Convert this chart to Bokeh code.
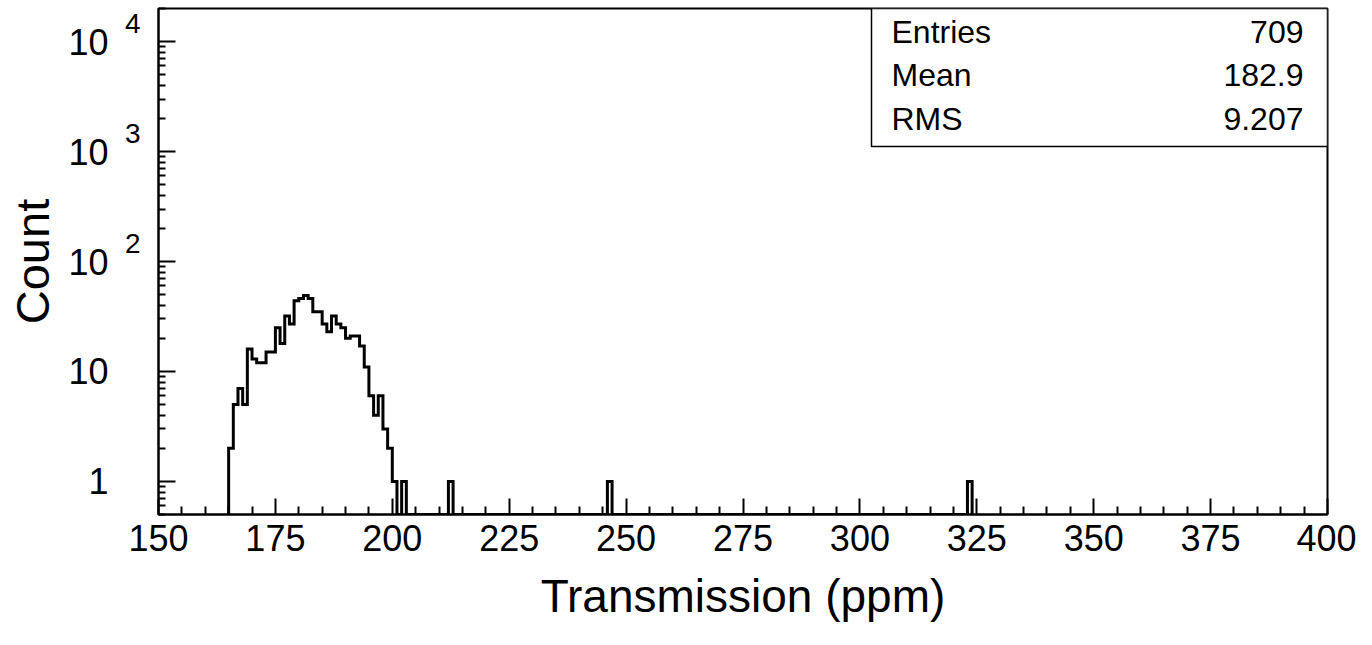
import numpy as np
from bokeh.plotting import figure
from bokeh.models import (Range1d, FixedTicker, Label, BoxAnnotation,
                          CustomJSTickFormatter, LogAxis)
from bokeh.embed import file_html
from bokeh.resources import INLINE

# ---- data (bin width 1 ppm) ----
bin_lo = [165, 166, 167, 168, 169, 170, 171, 172, 173, 174,
          175, 176, 177, 178, 179, 180, 181, 182, 183, 184,
          185, 186, 187, 188, 189, 190, 191, 192, 193, 194,
          195, 196, 197, 198, 199, 200, 201, 202, 212, 246, 323]
counts = [2, 5, 7, 5, 16, 13, 12, 12, 15, 15,
          25, 18, 32, 27, 44, 46, 49, 46, 35, 35,
          27, 23, 32, 27, 25, 20, 21, 21, 17, 11,
          6, 4, 6, 3, 2, 1, 0, 1, 1, 1, 1]
bin_width = 1

stat_names = ["Entries", "Mean", "RMS"]
stat_values = ["709", "182.9", "9.207"]

x_ticks = [150, 175, 200, 225, 250, 275, 300, 325, 350, 375, 400]
y_ticks = [1, 10, 100, 1000, 10000]
y_exp_ticks = [100, 1000, 10000]

x_title = "Transmission (ppm)"
y_title = "Count"

x_lo, x_hi = 150, 400
y_lo, y_hi = 0.5, 2.0e4

FONT = "Liberation Sans"
W, H = 1356, 629
FRAME_L, FRAME_R, FRAME_T, FRAME_B = 158, 1327, 8, 514

# ---- histogram outline path ----
first, last = min(bin_lo), max(bin_lo) + bin_width
nb = int((last - first) / bin_width)
hist = np.zeros(nb)
for lo, c in zip(bin_lo, counts):
    hist[int((lo - first) / bin_width)] = c
xs = [first]
ys = [y_lo]
for i, c in enumerate(hist):
    e0 = first + i * bin_width
    v = c if c > 0 else y_lo
    xs += [e0, e0 + bin_width]
    ys += [v, v]
xs.append(last)
ys.append(y_lo)

p = figure(width=W, height=H, output_backend="svg", toolbar_location=None,
           y_axis_type="log",
           x_range=Range1d(x_lo, x_hi), y_range=Range1d(y_lo, y_hi),
           min_border_left=FRAME_L, min_border_right=W - FRAME_R,
           min_border_top=FRAME_T, min_border_bottom=H - FRAME_B)
p.background_fill_color = "white"
p.border_fill_color = "white"
p.xgrid.visible = False
p.ygrid.visible = False
p.outline_line_color = "black"
p.outline_line_width = 2
p.outline_line_alpha = 1

p.line(xs, ys, line_color="black", line_width=3, line_join="miter")

# ---- x axis ----
minor_x = [v for v in range(x_lo, x_hi + 1, 5) if v not in x_ticks]
xa = p.xaxis[0]
xa.ticker = FixedTicker(ticks=x_ticks, minor_ticks=minor_x)
xa.major_tick_in = 16
xa.minor_tick_in = 8
xa.major_label_standoff = 10
xa.axis_label = x_title
xa.axis_label_standoff = 16

# ---- y axis: innermost draws ticks only ----
minor_y = [m * 10.0 ** k for k in range(-1, 5) for m in range(2, 10)]
minor_y = [v for v in minor_y if y_lo <= v <= y_hi]
ya = p.yaxis[0]
ya.ticker = FixedTicker(ticks=y_ticks, minor_ticks=minor_y)
ya.formatter = CustomJSTickFormatter(code="return '';")
ya.major_tick_in = 17
ya.minor_tick_in = 7
ya.major_label_standoff = 0

for ax in (xa, ya):
    ax.axis_line_color = "black"
    ax.axis_line_width = 2
    ax.major_tick_line_color = "black"
    ax.major_tick_line_width = 2
    ax.minor_tick_line_color = "black"
    ax.minor_tick_line_width = 2
    ax.major_tick_out = 0
    ax.minor_tick_out = 0
    ax.major_label_text_font = FONT
    ax.major_label_text_font_size = "36px"
    ax.major_label_text_color = "black"
    ax.axis_label_text_font = FONT
    ax.axis_label_text_font_size = "46px"
    ax.axis_label_text_font_style = "normal"
    ax.axis_label_text_color = "black"

# exponent labels (raised above their decade tick)
raise_px = 18
decade_px = (FRAME_B - FRAME_T) / (np.log10(y_hi) - np.log10(y_lo))
exp_axis = LogAxis(
    ticker=FixedTicker(ticks=[t * 10 ** (raise_px / decade_px) for t in y_exp_ticks], minor_ticks=[]),
    formatter=CustomJSTickFormatter(code="return String(Math.round(Math.log10(tick)));"),
    axis_line_color=None, major_tick_line_color=None, minor_tick_line_color=None,
    major_tick_in=0, major_tick_out=0, minor_tick_in=0, minor_tick_out=0,
    major_label_standoff=18, major_label_text_font=FONT,
    major_label_text_font_size="28px", major_label_text_color="black")
p.add_layout(exp_axis, "left")

# mantissa labels ("1", "10") and the y title
man_axis = LogAxis(
    ticker=FixedTicker(ticks=y_ticks, minor_ticks=[]),
    formatter=CustomJSTickFormatter(code="return tick < 5 ? '1' : '10';"),
    axis_line_color=None, major_tick_line_color=None, minor_tick_line_color=None,
    major_tick_in=0, major_tick_out=0, minor_tick_in=0, minor_tick_out=0,
    major_label_standoff=13, major_label_text_font=FONT,
    major_label_text_font_size="36px", major_label_text_color="black",
    axis_label=y_title, axis_label_standoff=6, axis_label_text_font=FONT,
    axis_label_text_font_size="47px", axis_label_text_font_style="normal",
    axis_label_text_line_height=1.0,
    axis_label_text_color="black")
p.add_layout(man_axis, "left")

# ---- statistics box ----
px_per_x = (FRAME_R - FRAME_L) / (x_hi - x_lo)
box_left = x_lo + (871 - FRAME_L) / px_per_x
box_bottom = 10 ** (np.log10(y_hi) - (146 - FRAME_T) / decade_px)
p.add_layout(BoxAnnotation(left=box_left, right=x_hi, bottom=box_bottom, top=y_hi,
                           fill_color="white", fill_alpha=1.0,
                           line_color="black", line_width=1.5, line_alpha=1.0))
row_offsets = [-23.7, -66.7, -110.7]
for n, v, off in zip(stat_names, stat_values, row_offsets):
    p.add_layout(Label(x=box_left, y=y_hi, x_offset=20, y_offset=off, text=n,
                       text_font=FONT, text_font_size="32px", text_color="black",
                       text_align="left", text_baseline="alphabetic"))
    p.add_layout(Label(x=x_hi, y=y_hi, x_offset=-24, y_offset=off, text=v,
                       text_font=FONT, text_font_size="32px", text_color="black",
                       text_align="right", text_baseline="alphabetic"))

open("out.html", "w").write(file_html(p, INLINE))
